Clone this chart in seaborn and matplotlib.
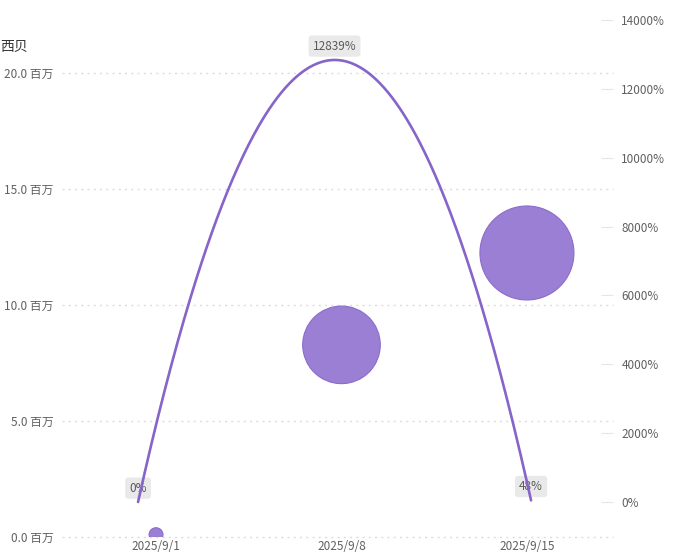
import numpy as np
import pandas as pd
import matplotlib
matplotlib.use("Agg")
import matplotlib.pyplot as plt
import seaborn as sns

dates = ["2025/9/1", "2025/9/8", "2025/9/15"]
sales_million = [0.1, 8.28, 12.24]
growth_pct = [0, 12839, 48]
growth_labels = ["0%", "12839%", "48%"]
left_ticks = [0, 5, 10, 15, 20]
right_ticks = [0, 2000, 4000, 6000, 8000, 10000, 12000, 14000]
series_name = "西贝"

sns.set_theme(style="white")
plt.rcParams["font.family"] = ["Noto Sans CJK SC", "DejaVu Sans"]

W, H = 677, 558
fig = plt.figure(figsize=(W / 100, H / 100), dpi=100)
L, R, T, B = 62, 613, 20, 537
rect = [L / W, 1 - B / H, (R - L) / W, (B - T) / H]
ax = fig.add_axes(rect)
ax2 = fig.add_axes(rect, frameon=False)

bubble_fill = "#9b7fd4"
bubble_edge = "#8a6ccb"
line_color = "#8764c9"
tick_color = "#606060"

df = pd.DataFrame({"x": np.arange(len(dates)), "sales": sales_million})
sns.scatterplot(data=df, x="x", y="sales", size="sales", sizes=(100, 4580),
                color=bubble_fill, edgecolor=bubble_edge, linewidth=0.8,
                legend=False, ax=ax, zorder=3)

ax.set_xlim(-0.507, 2.464)
ax.set_ylim(0, 22.28)
ax.set_xticks(range(len(dates)))
ax.set_xticklabels(dates)
ax.set_yticks(left_ticks)
ax.set_yticklabels([f"{v:.1f} 百万" for v in left_ticks])
ax.set_xlabel("")
ax.set_ylabel("")
for s in ax.spines.values():
    s.set_visible(False)
ax.grid(axis="y", color="#dcdcdc", linestyle=(0, (1.5, 3)), linewidth=1)
ax.grid(axis="x", visible=False)
for gl in ax.get_ygridlines():
    gl.set_clip_on(False)
ax.tick_params(axis="both", length=0, labelsize=8.5, labelcolor=tick_color, pad=6)
ax.tick_params(axis="x", pad=2)

# smooth line on its own axes
xs = np.arange(len(dates))
xf = np.linspace(xs[0], xs[-1], 300)
poly = np.polyfit(xs, growth_pct, len(xs) - 1)
sns.lineplot(x=xf, y=np.polyval(poly, xf), color=line_color, linewidth=1.9,
             ax=ax2, zorder=5)
ax2.set_xlim(-0.387, 2.417)
ax2.set_ylim(-1016, 14000)
ax2.set_xticks([])
ax2.yaxis.tick_right()
ax2.set_yticks(right_ticks)
ax2.set_yticklabels([f"{v}%" for v in right_ticks])
ax2.tick_params(axis="y", length=9, width=0.8, color="#e6e6e6", direction="in",
                labelsize=8.5, labelcolor=tick_color, pad=6)
ax2.set_xlabel("")
ax2.set_ylabel("")
for x, v, lab in zip(xs, growth_pct, growth_labels):
    ax2.annotate(lab, (x, v), xytext=(0, 10), textcoords="offset points",
                 ha="center", va="center", fontsize=8.5, color="#5a5a5a", zorder=2,
                 bbox=dict(boxstyle="round,pad=0.35,rounding_size=0.25",
                           fc="#e9e9e9", ec="none"))

fig.text(0, 1 - 47 / H, series_name, fontsize=10, color="#333333",
         ha="left", va="center")

fig.savefig("out.png", dpi=100)
